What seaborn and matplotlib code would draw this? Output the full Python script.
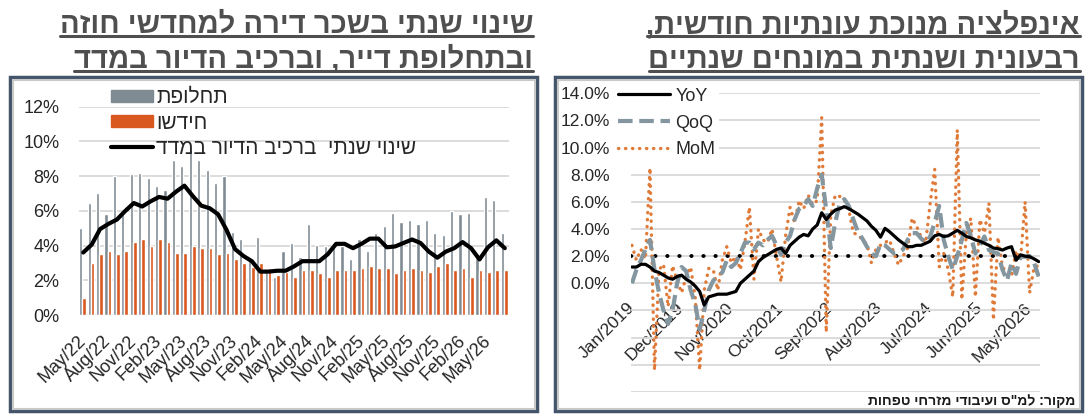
import numpy as np
import pandas as pd
import matplotlib
matplotlib.use('Agg')
import matplotlib.pyplot as plt
import seaborn as sns
from matplotlib.patches import Rectangle, Patch
from matplotlib.lines import Line2D
from matplotlib.ticker import FuncFormatter

# ---- left panel: rent, annual change (%), May/22 .. Jul/26
rent_months = pd.date_range('2022-05-01', periods=51, freq='MS')
replacement = [5.0, 6.45, 7.0, 5.8, 8.0, 5.8, 8.1, 8.2, 7.9, 7.45, 7.2, 8.95, 8.6, 9.5, 8.95, 8.35, 7.6,
               8.0, 4.8, 4.4, 3.3, 4.5, 2.6, 2.2, 3.7, 4.15, 3.35, 5.25, 4.05, 3.95, 4.1, 4.0, 3.25, 4.35,
               3.7, 4.7, 5.15, 5.85, 5.35, 5.45, 5.25, 5.45, 4.7, 4.6, 6.0, 5.8, 5.85, 3.3, 6.8, 6.6, 4.7]
renewal = [1.0, 3.0, 3.5, 3.7, 3.5, 3.7, 4.2, 4.4, 4.0, 4.4, 4.2, 3.6, 3.6, 3.95, 3.85, 3.85, 3.5,
           3.6, 3.2, 3.0, 2.75, 3.0, 2.7, 2.3, 2.45, 2.2, 2.6, 2.6, 2.4, 2.2, 2.6, 2.6, 2.6, 2.7,
           2.85, 2.7, 2.7, 2.4, 2.6, 2.7, 2.6, 2.5, 2.85, 3.0, 2.6, 2.7, 2.2, 2.6, 2.5, 2.6, 2.6]
housing_cpi = [3.6, 4.05, 4.95, 5.25, 5.5, 6.0, 6.45, 6.25, 6.55, 6.8, 6.7, 7.1, 7.45, 6.85, 6.3, 6.15,
               5.8, 4.9, 3.8, 3.4, 3.1, 2.5, 2.5, 2.55, 2.55, 2.8, 3.1, 3.1, 3.1, 3.5, 4.1, 4.1, 3.85,
               4.1, 4.4, 4.4, 3.9, 3.95, 4.15, 4.35, 4.15, 3.65, 3.3, 3.65, 3.85, 4.2, 3.85, 3.2, 3.9,
               4.3, 3.85]

# ---- right panel: seasonally adjusted inflation, annualised (%), Jan/2019 .. Jul/2026
infl_months = pd.date_range('2019-01-01', periods=91, freq='MS')
yoy = [1.2, 1.2, 1.4, 1.4, 1.2, 0.9, 0.8, 0.6, 0.4, 0.3, 0.5, 0.6, 0.3, 0.1, -0.2, -0.6, -1.6, -1.0,
       -0.9, -0.8, -0.8, -0.8, -0.7, -0.6, 0.0, 0.3, 0.6, 0.9, 1.6, 1.9, 2.1, 2.3, 2.5, 2.6, 2.2, 2.8,
       3.1, 3.4, 3.6, 3.5, 4.0, 4.3, 5.2, 4.7, 5.1, 5.4, 5.5, 5.65, 5.5, 5.3, 5.1, 4.85, 4.6, 4.2, 3.9,
       3.4, 4.05, 3.8, 3.5, 3.2, 2.95, 2.7, 2.7, 2.8, 2.8, 2.95, 3.1, 3.5, 3.6, 3.45, 3.5, 3.7, 3.9,
       3.7, 3.45, 3.35, 3.2, 3.1, 2.95, 2.8, 2.6, 2.55, 2.45, 2.6, 2.7, 1.7, 2.1, 2.0, 1.96, 1.8, 1.6]
qoq = [0.0, 1.0, 1.7, 2.5, 3.2, 1.0, -0.7, -2.0, -3.0, -2.0, 0.0, 1.2, 0.9, -0.5, -1.5, -3.4, -2.0,
       -0.5, 0.2, 0.5, 0.8, 1.7, 1.2, 1.5, 2.2, 3.0, 3.0, 2.5, 3.0, 2.8, 3.2, 3.5, 2.8, 2.1, 3.0, 3.5,
       4.7, 5.5, 5.7, 6.2, 5.7, 7.0, 8.0, 5.4, 2.6, 4.5, 5.9, 6.2, 5.7, 4.7, 3.8, 3.3, 2.7, 2.2, 2.0,
       2.9, 2.8, 2.5, 2.2, 2.3, 2.5, 3.2, 3.7, 3.7, 3.3, 3.0, 3.45, 4.5, 5.7, 3.2, 2.0, 1.0, 2.0, 3.2,
       4.45, 3.5, 2.2, 2.8, 3.45, 2.45, 2.3, 2.2, 1.0, 0.2, 1.5, 0.7, 1.96, 1.96, 2.0, 1.5, 0.5]
mom = [2.8, 1.7, 2.5, 1.8, 8.5, -6.4, 1.0, 1.4, -1.7, 1.3, 0.2, -0.7, 0.5, 1.2, -1.0, -6.4, -0.5, 1.1,
       1.0, -0.5, 1.7, 2.7, 1.5, 2.0, 1.0, 3.0, 5.6, 0.3, 4.0, 3.2, 3.0, 4.0, 2.0, 0.1, 3.5, 5.6, 4.5,
       6.1, 5.5, 6.5, 5.8, 6.1, 12.2, -3.6, 5.0, 6.5, 6.4, 6.1, 5.4, 3.7, 3.6, 3.2, 2.9, 1.5, 2.5, 2.8,
       3.0, 3.2, 2.2, 1.35, 2.0, 2.6, 4.8, 4.2, 3.4, 3.0, 5.9, 8.4, 1.2, 2.2, 1.0, -1.0, 11.3, -1.2,
       3.7, 4.8, -1.0, 4.7, 3.7, 5.9, -2.7, 3.4, 1.2, 0.8, 0.5, 2.4, 1.8, 6.0, -0.7, 1.2, 1.3]
target = 2.0


def heb(s):
    # matplotlib has no bidi support: write hebrew in visual order
    return s[::-1]


sns.set_style('white')
plt.rcParams['font.family'] = ['Liberation Sans', 'DejaVu Sans']

W, H = 1088, 420
fig = plt.figure(figsize=(W / 100, H / 100), dpi=100)


def fx(px):
    return px / W


def fy(py):
    return 1 - py / H


grid_c = '#d9d9d9'
gray_c = '#7f8b93'
orange_c = '#d9581f'
dot_c = '#e07a38'
qoq_c = '#8497a0'
title_c = '#4f4f4f'
tick_c = '#262626'

# panel frames
for x0, x1 in [(10, 537), (555, 1082)]:
    fig.add_artist(Rectangle((fx(x0), fy(411)), fx(x1) - fx(x0), fy(77) - fy(411),
                             transform=fig.transFigure, fill=False, ec='#44546a', lw=2.5, zorder=0))
    fig.add_artist(Rectangle((fx(x0 + 2.5), fy(408.5)), fx(x1 - 2.5) - fx(x0 + 2.5), fy(79.5) - fy(408.5),
                             transform=fig.transFigure, fill=False, ec='#c9c9c9', lw=1.5, zorder=0))

# ---------------- left panel
ax1 = fig.add_axes([fx(79), fy(315), fx(509) - fx(79), fy(106.7) - fy(315)])
x = np.arange(len(rent_months))
ax1.bar(x - 0.30, replacement, width=0.38, color=gray_c, zorder=2)
ax1.bar(x + 0.11, renewal, width=0.44, color=orange_c, zorder=3)
sns.lineplot(x=x, y=housing_cpi, ax=ax1, color='black', lw=3.0, zorder=4)
ax1.set_xlim(-0.5, len(x) - 0.5)
ax1.set_ylim(0, 12)
ax1.set_yticks(range(0, 13, 2))
ax1.yaxis.set_major_formatter(FuncFormatter(lambda v, p: f'{v:.0f}%'))
ax1.grid(axis='y', color=grid_c, lw=1.3, zorder=0)
ax1.set_axisbelow(True)
for s in ax1.spines.values():
    s.set_visible(False)
tick_idx = list(range(0, len(x), 3))
ax1.set_xticks(tick_idx)
ax1.set_xticklabels([rent_months[i].strftime('%b/%y') for i in tick_idx],
                    rotation=45, ha='right', va='center', rotation_mode='anchor')
ax1.tick_params(axis='x', length=0, pad=17, labelsize=13, labelcolor=tick_c)
ax1.tick_params(axis='y', length=0, pad=14, labelsize=13, labelcolor=tick_c)
ax1.axhline(0, color=grid_c, lw=1.5, zorder=1)
ax1.set_xlabel('')
ax1.set_ylabel('')

h1 = [Patch(color=gray_c), Patch(color=orange_c), Line2D([], [], color='black', lw=3)]
l1 = [heb('תחלופת'), heb('חידשו'), heb('שינוי שנתי  ברכיב הדיור במדד')]
ax1.legend(h1, l1, loc='upper left', bbox_to_anchor=(fx(103), fy(80)), bbox_transform=fig.transFigure,
           frameon=False, fontsize=15, handlelength=2.0, handleheight=0.55, handletextpad=0.15,
           labelspacing=0.3, borderaxespad=0)

# ---------------- right panel
ax2 = fig.add_axes([fx(631), fy(391.9), fx(1040) - fx(631), fy(93.3) - fy(391.9)])
t = np.arange(len(infl_months))
ax2.axhline(target, color='black', lw=2.8, ls=(0, (0.1, 3.0)), dash_capstyle='round', zorder=2)
sns.lineplot(x=t, y=mom, ax=ax2, color=dot_c, lw=2.4, ls=(0, (0.1, 2.0)), dash_capstyle='round', zorder=3)
sns.lineplot(x=t, y=qoq, ax=ax2, color=qoq_c, lw=3.0, ls=(0, (3.5, 1.6)), zorder=4)
sns.lineplot(x=t, y=yoy, ax=ax2, color='black', lw=2.3, zorder=5)
ax2.set_xlim(-0.2, 90.3)
ax2.set_ylim(-8, 14)
for s in ax2.spines.values():
    s.set_visible(False)
# category labels sit next to the 0% line, as in the source chart
ax2.spines['bottom'].set_position(('data', 0))
ax2.set_yticks(range(-8, 15, 2))
ax2.yaxis.set_major_formatter(FuncFormatter(lambda v, p: '' if v < 0 else f'{v:.1f}%'))
ax2.grid(axis='y', color=grid_c, lw=1.3, zorder=0)
ax2.set_axisbelow(True)
tick_idx2 = list(range(0, len(t), 11))
ax2.set_xticks(tick_idx2)
ax2.set_xticklabels([infl_months[i].strftime('%b/%Y') for i in tick_idx2],
                    rotation=45, ha='right', va='center', rotation_mode='anchor')
ax2.tick_params(axis='x', length=0, pad=16, labelsize=12.5, labelcolor=tick_c)
ax2.tick_params(axis='y', length=0, pad=15, labelsize=12.5, labelcolor=tick_c)
ax2.set_xlabel('')
ax2.set_ylabel('')

h2 = [Line2D([], [], color='black', lw=2.3),
      Line2D([], [], color=qoq_c, lw=3.0, ls=(0, (3.5, 1.6))),
      Line2D([], [], color=dot_c, lw=2.4, ls=(0, (0.1, 2.0)), dash_capstyle='round')]
leg2 = ax2.legend(h2, ['YoY', 'QoQ', 'MoM'], loc='upper left', bbox_to_anchor=(fx(614), fy(84)),
                  bbox_transform=fig.transFigure, frameon=True, fontsize=13, handlelength=2.9,
                  handletextpad=0.3, labelspacing=0.55, borderaxespad=0, borderpad=0.2, fancybox=False)
leg2.get_frame().set_facecolor('white')
leg2.get_frame().set_edgecolor('none')
leg2.get_frame().set_alpha(1)

fig.text(fx(1075), fy(401), heb('מקור: למ"ס ועיבודי מזרחי טפחות'), ha='right', va='center',
         fontsize=10, fontweight='bold', color='#1a1a1a')

# ---------------- titles (underlined)
titles = [
    (533, [heb('שינוי שנתי בשכר דירה למחדשי חוזה'), heb('ובתחלופת דייר, וברכיב הדיור במדד')]),
    (1080, [heb('אינפלציה מנוכת עונתיות חודשית,'), heb('רבעונית ושנתית במונחים שנתיים')]),
]
title_objs = []
for xr, lines in titles:
    for k, line in enumerate(lines):
        base = 33 + k * 35
        txt = fig.text(fx(xr), fy(base), line, ha='right', va='baseline', fontsize=21,
                       fontweight='bold', color=title_c)
        title_objs.append((txt, base))

fig.canvas.draw()
rend = fig.canvas.get_renderer()
for txt, base in title_objs:
    bb = txt.get_window_extent(rend)
    fig.add_artist(Line2D([bb.x0 / W, bb.x1 / W], [fy(base + 3), fy(base + 3)],
                          transform=fig.transFigure, color=title_c, lw=2.2))

fig.savefig('out.png', dpi=100)
